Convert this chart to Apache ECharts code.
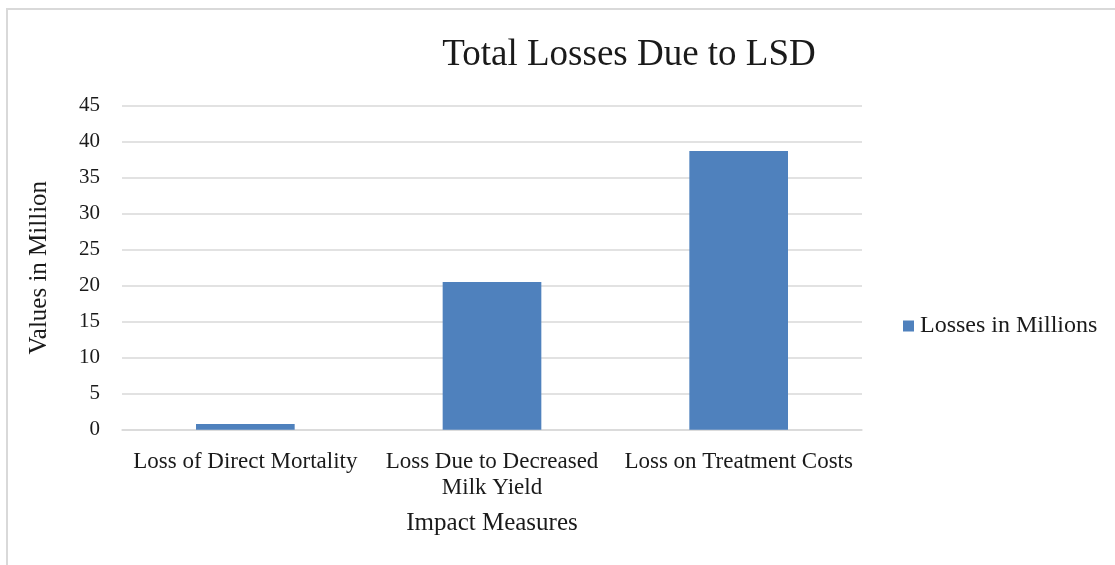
<!DOCTYPE html>
<html>
<head>
<meta charset="utf-8">
<script src="https://cdn.jsdelivr.net/npm/echarts@6/dist/echarts.min.js"></script>
<style>
  html, body { margin: 0; padding: 0; background: #fff; }
  #frame { position: absolute; left: 6px; top: 8px; width: 1120px; height: 570px;
           border-left: 2px solid #d9d9d9; border-top: 2px solid #d9d9d9; }
  #main { position: absolute; left: 0; top: 0; width: 1115px; height: 565px; }
</style>
</head>
<body>
<div id="frame"></div>
<div id="main"></div>
<script>
  var categories = ['Loss of Direct Mortality', 'Loss Due to Decreased\nMilk Yield', 'Loss on Treatment Costs'];
  var losses = [0.8, 20.5, 38.7];
  var seriesName = 'Losses in Millions';

  var font = 'Liberation Serif';
  var ink = '#1a1a1a';
  var myChart = echarts.init(document.getElementById('main'));
  myChart.setOption({
    animation: false,
    title: {
      text: 'Total Losses Due to LSD',
      left: 624, top: 32, textAlign: 'center',
      textStyle: { fontFamily: font, fontSize: 37, fontWeight: 'normal', color: ink }
    },
    legend: {
      data: [seriesName],
      orient: 'vertical',
      left: 898, top: 309,
      itemWidth: 11, itemHeight: 11, itemGap: 5,
      icon: 'rect',
      textStyle: { fontFamily: font, fontSize: 24, color: ink, padding: [0, 0, 0, 1] }
    },
    grid: { left: 122, right: 253, top: 105.7, bottom: 135.3 },
    xAxis: {
      type: 'category',
      data: categories,
      name: 'Impact Measures',
      nameLocation: 'middle',
      nameGap: 81,
      nameTextStyle: { fontFamily: font, fontSize: 25, color: ink },
      axisLine: { lineStyle: { color: '#d9d9d9', width: 1.5 } },
      axisTick: { show: false },
      axisLabel: { fontFamily: font, fontSize: 23, color: ink, margin: 19, lineHeight: 26, interval: 0 }
    },
    yAxis: {
      type: 'value',
      min: 0, max: 45, interval: 5,
      name: 'Values in Million',
      nameLocation: 'middle',
      nameGap: 70,
      nameTextStyle: { fontFamily: font, fontSize: 25, color: ink },
      axisLine: { show: false },
      axisTick: { show: false },
      axisLabel: { fontFamily: font, fontSize: 21, color: ink, margin: 22 },
      splitLine: { lineStyle: { color: '#d9d9d9', width: 1.5 } }
    },
    series: [{
      name: seriesName,
      type: 'bar',
      data: losses,
      barWidth: '40%',
      itemStyle: { color: '#4f81bd' }
    }]
  });
</script>
</body>
</html>
